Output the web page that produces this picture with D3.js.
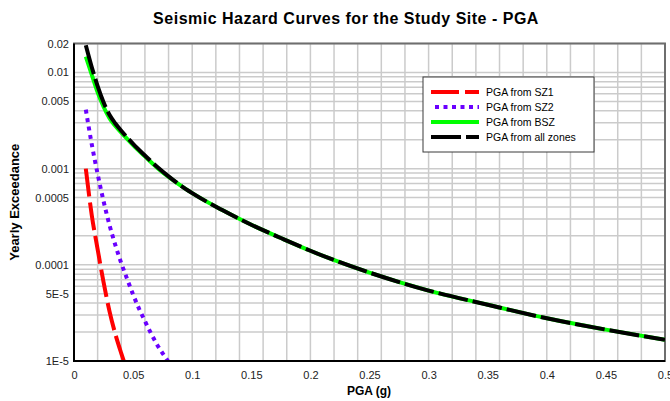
<!DOCTYPE html>
<html>
<head>
<meta charset="utf-8">
<script src="https://cdn.jsdelivr.net/npm/d3@7"></script>
<style>
  body { margin: 0; background: #fff; }
  svg { font-family: "Liberation Sans", Arial, sans-serif; }
</style>
</head>
<body>
<script>
/** Data */
const pgaSZ1 = [0.01, 0.015, 0.02, 0.025, 0.03, 0.035, 0.04, 0.045];
const valSZ1 = [1.0e-3, 3.3e-4, 1.45e-4, 6.6e-5, 3.3e-5, 1.9e-5, 1.2e-5, 7.9e-6];

const pgaSZ2 = [0.01, 0.015, 0.02, 0.025, 0.03, 0.035, 0.04, 0.045, 0.05, 0.055, 0.06, 0.065, 0.07, 0.075, 0.08];
const valSZ2 = [4.1e-3, 1.8e-3, 8.8e-4, 4.6e-4, 2.6e-4, 1.6e-4, 1.04e-4, 7.1e-5, 4.9e-5, 3.5e-5, 2.6e-5, 1.95e-5, 1.5e-5, 1.2e-5, 9.8e-6];

const pgaMain = [0.01, 0.015, 0.02, 0.025, 0.03, 0.035, 0.04, 0.05, 0.06, 0.07, 0.08, 0.09, 0.1, 0.125, 0.15, 0.175, 0.2, 0.25, 0.3, 0.35, 0.4, 0.45, 0.5];
const valBSZ = [0.0146, 0.0095, 0.0062, 0.0044, 0.00334, 0.00277, 0.00237, 0.00176, 0.00134, 0.00103, 0.00082, 0.00067, 0.000556, 0.000373, 0.000261, 0.00019, 0.00014, 8.3e-5, 5.4e-5, 3.85e-5, 2.78e-5, 2.12e-5, 1.66e-5];
const valAll = [0.0192, 0.0114, 0.0072, 0.0049, 0.00363, 0.00295, 0.00248, 0.00181, 0.00137, 0.00105, 0.00083, 0.00067, 0.000556, 0.000373, 0.000261, 0.00019, 0.00014, 8.3e-5, 5.4e-5, 3.85e-5, 2.78e-5, 2.12e-5, 1.66e-5];

const seriesNames = ["PGA from SZ1", "PGA from SZ2", "PGA from BSZ", "PGA from all zones"];
const xTickValues = [0, 0.05, 0.1, 0.15, 0.2, 0.25, 0.3, 0.35, 0.4, 0.45, 0.5];
const xTickLabels = ["0", "0.05", "0.1", "0.15", "0.2", "0.25", "0.3", "0.35", "0.4", "0.45", "0.5"];
const yTickValues = [0.02, 0.01, 0.005, 0.001, 0.0005, 0.0001, 5e-5, 1e-5];
const yTickLabels = ["0.02", "0.01", "0.005", "0.001", "0.0005", "0.0001", "5E-5", "1E-5"];

/** Layout */
const width = 670, height = 401;
const plot = { left: 74, right: 665, top: 43.5, bottom: 361 };

const styles = [
  { color: "#ff0000", width: 4, dash: "28,6" },
  { color: "#6a00ff", width: 4, dash: "4,4.5" },
  { color: "#00ff00", width: 4, dash: null },
  { color: "#000000", width: 4, dash: "30,5" }
];

const x = d3.scaleLinear().domain([0, 0.5]).range([plot.left, plot.right]);
const y = d3.scaleLog().domain([1e-5, 0.02]).range([plot.bottom, plot.top]);

const svg = d3.select("body").append("svg")
  .attr("width", width)
  .attr("height", height);

// grid
const grid = svg.append("g").attr("stroke", "#cbcbcb").attr("stroke-width", 1.5);
grid.selectAll("line.v")
  .data(x.ticks(20))
  .enter().append("line")
  .attr("x1", d => x(d)).attr("x2", d => x(d))
  .attr("y1", plot.top).attr("y2", plot.bottom);
grid.selectAll("line.h")
  .data(y.ticks())
  .enter().append("line")
  .attr("x1", plot.left).attr("x2", plot.right)
  .attr("y1", d => y(d)).attr("y2", d => y(d));

// frame
svg.append("rect")
  .attr("x", plot.left).attr("y", plot.top)
  .attr("width", plot.right - plot.left).attr("height", plot.bottom - plot.top)
  .attr("fill", "none").attr("stroke", "#6e6e6e").attr("stroke-width", 2);

// curves
svg.append("clipPath").attr("id", "clip")
  .append("rect")
  .attr("x", plot.left).attr("y", plot.top)
  .attr("width", plot.right - plot.left).attr("height", plot.bottom - plot.top);

const line = d3.line()
  .x(d => x(d[0]))
  .y(d => y(d[1]))
  .curve(d3.curveMonotoneX);

const curves = [
  d3.zip(pgaSZ1, valSZ1),
  d3.zip(pgaSZ2, valSZ2),
  d3.zip(pgaMain, valBSZ),
  d3.zip(pgaMain, valAll)
];

const curveG = svg.append("g").attr("clip-path", "url(#clip)");
curves.forEach((pts, i) => {
  curveG.append("path")
    .attr("d", line(pts))
    .attr("fill", "none")
    .attr("stroke", styles[i].color)
    .attr("stroke-width", styles[i].width)
    .attr("stroke-dasharray", styles[i].dash);
});

// axes lines (left and bottom black)
svg.append("line")
  .attr("x1", plot.left).attr("x2", plot.left)
  .attr("y1", plot.top).attr("y2", plot.bottom + 1)
  .attr("stroke", "#000").attr("stroke-width", 2);
svg.append("line")
  .attr("x1", plot.left - 1).attr("x2", plot.right)
  .attr("y1", plot.bottom).attr("y2", plot.bottom)
  .attr("stroke", "#000").attr("stroke-width", 2);

// axis labels via d3 axes
const xAxis = d3.axisBottom(x)
  .tickValues(xTickValues)
  .tickFormat((d, i) => xTickLabels[i])
  .tickSize(0).tickPadding(10);
svg.append("g")
  .attr("transform", "translate(0," + plot.bottom + ")")
  .call(xAxis)
  .call(g => g.select(".domain").remove())
  .selectAll("text")
  .attr("font-size", "11px")
  .attr("font-family", "Liberation Sans, Arial, sans-serif")
  .attr("fill", "#222");

const yAxis = d3.axisLeft(y)
  .tickValues(yTickValues)
  .tickFormat((d, i) => yTickLabels[i])
  .tickSize(0).tickPadding(5);
svg.append("g")
  .attr("transform", "translate(" + plot.left + ",0)")
  .call(yAxis)
  .call(g => g.select(".domain").remove())
  .selectAll("text")
  .attr("font-size", "11px")
  .attr("font-family", "Liberation Sans, Arial, sans-serif")
  .attr("fill", "#222");

// titles
svg.append("text")
  .attr("x", 346).attr("y", 24)
  .attr("text-anchor", "middle")
  .attr("font-size", "16px").attr("font-weight", "bold")
  .attr("letter-spacing", "0.5px")
  .text("Seismic Hazard Curves for the Study Site - PGA");

svg.append("text")
  .attr("x", 369).attr("y", 395)
  .attr("text-anchor", "middle")
  .attr("font-size", "12px").attr("font-weight", "bold")
  .text("PGA (g)");

svg.append("text")
  .attr("transform", "translate(19," + ((plot.top + plot.bottom) / 2) + ") rotate(-90)")
  .attr("text-anchor", "middle")
  .attr("font-size", "13px").attr("font-weight", "bold")
  .text("Yearly Exceedance");

// legend
const legend = svg.append("g").attr("transform", "translate(423,77)");
legend.append("rect")
  .attr("width", 171).attr("height", 75)
  .attr("fill", "#fff").attr("stroke", "#3a3a3a").attr("stroke-width", 1);
seriesNames.forEach((name, i) => {
  const ly = 15 + i * 15;
  legend.append("line")
    .attr("x1", i === 1 ? 12 : 8).attr("x2", 56)
    .attr("y1", ly).attr("y2", ly)
    .attr("stroke", styles[i].color)
    .attr("stroke-width", styles[i].width)
    .attr("stroke-dasharray", styles[i].dash);
  legend.append("text")
    .attr("x", 63).attr("y", ly + 4)
    .attr("font-size", "10.5px")
    .text(name);
});
</script>
</body>
</html>
